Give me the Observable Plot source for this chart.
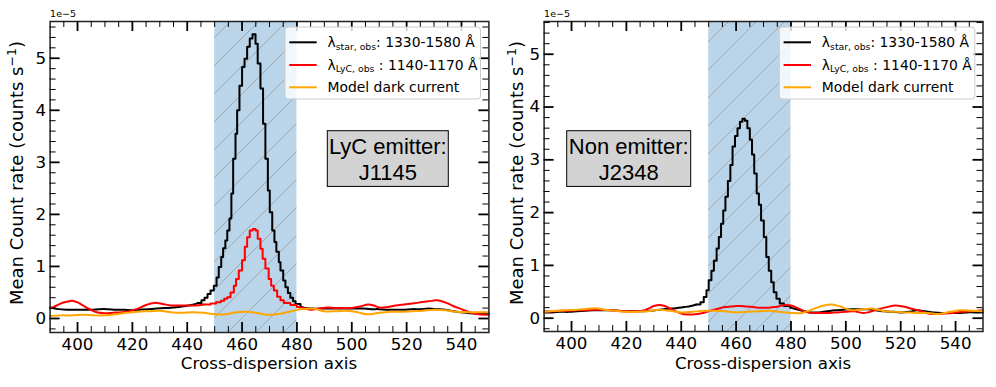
<!DOCTYPE html>
<html><head><meta charset="utf-8">
<script src="https://cdn.jsdelivr.net/npm/d3@7"></script>
<script src="https://cdn.jsdelivr.net/npm/@observablehq/plot@0.6"></script>
<style>
html,body{margin:0;padding:0;background:#fff;overflow:hidden;}
#wrap{position:relative;width:996px;height:387px;}
.panel{position:absolute;top:0;}
</style></head><body><div id="wrap"></div>
<script>
// ---------- axis / tick definitions ----------
const xDomain = [390, 550];
const xMajor = [400, 420, 440, 460, 480, 500, 520, 540];
const xMinor = [395, 405, 410, 415, 425, 430, 435, 445, 450, 455, 465, 470, 475, 485, 490, 495, 505, 510, 515, 525, 530, 535, 545];
const yMajor = [0, 1, 2, 3, 4, 5];
const yMinor = [-0.2, 0.2, 0.4, 0.6, 0.8, 1.2, 1.4, 1.6, 1.8, 2.2, 2.4, 2.6, 2.8, 3.2, 3.4, 3.6, 3.8, 4.2, 4.4, 4.6, 4.8, 5.2, 5.4, 5.6];
const spanX = [450, 480];
const legendLabels = ["star, obs", "LyC, obs", "Model dark current"];
const starRange = ": 1330-1580 Å";
const lycRange = " : 1140-1170 Å";

// ---------- left panel: J1145 (LyC emitter) ----------
const leftStarX = [390,393,396,399,402,405,408,411,414,417,420,423,426,429,432,435,438,440.5,442.5,444,445.2,446.3,447.4,448.5,449.7,450.7,451.5,452.4,453.1,453.9,454.6,455.4,456.1,456.75,457.6,458.2,459.05,460.0,460.9,461.85,462.8,463.8,464.9,465.7,466.7,467.65,468.5,469.4,470.1,471.0,471.8,472.5,473.4,474.0,475.0,475.8,476.7,477.6,478.6,479.5,481.3,483,486,489,492,495,498,501,504,507,510,513,516,519,522,525,528,531,534,537,540,543,546,549,550];
const leftStarY = [0.21,0.18,0.17,0.17,0.17,0.17,0.18,0.18,0.17,0.17,0.16,0.17,0.18,0.19,0.20,0.21,0.23,0.25,0.27,0.30,0.35,0.40,0.47,0.54,0.63,0.79,0.99,1.18,1.35,1.50,1.69,1.92,2.40,3.07,3.55,4.00,4.47,4.83,4.99,5.22,5.38,5.46,5.28,4.90,4.42,3.74,3.07,2.46,2.04,1.69,1.47,1.28,1.08,0.92,0.73,0.60,0.49,0.40,0.33,0.28,0.23,0.20,0.19,0.19,0.19,0.19,0.19,0.19,0.19,0.18,0.18,0.17,0.17,0.17,0.18,0.18,0.19,0.18,0.17,0.14,0.12,0.10,0.09,0.09,0.09];
const leftLycX = [390,392,394,396,398,400,402,404,406,408,410,413,416,419,422,425,428,431,434,437,440,443,446,448.5,450.5,452.3,453.5,454.6,455.8,457.0,457.8,458.8,460.0,461.0,461.85,462.8,463.9,464.9,465.7,466.7,467.5,468.5,469.7,470.6,471.6,472.8,474.0,475.2,477.6,480,482.5,485,488,491,494,497,500,503,506,508,510,513,516,519,522,525,528,531,534,537,540,543,546,549,550];
const leftLycY = [0.19,0.24,0.29,0.32,0.34,0.31,0.25,0.19,0.14,0.11,0.10,0.11,0.12,0.14,0.19,0.26,0.30,0.28,0.25,0.25,0.25,0.25,0.27,0.29,0.31,0.34,0.38,0.41,0.50,0.63,0.76,0.92,1.12,1.38,1.56,1.69,1.72,1.69,1.53,1.34,1.15,0.96,0.76,0.63,0.54,0.42,0.35,0.30,0.26,0.22,0.20,0.17,0.19,0.21,0.20,0.20,0.20,0.23,0.27,0.25,0.21,0.22,0.25,0.27,0.29,0.31,0.33,0.35,0.31,0.24,0.18,0.12,0.08,0.07,0.07];
const leftDarkX = [390,394,398,402,406,410,414,418,422,426,430,434,438,442,446,450,454,458,462,466,470,474,478,482,486,490,494,498,502,506,510,514,518,522,526,530,534,538,542,546,550];
const leftDarkY = [0.05,0.06,0.06,0.07,0.06,0.06,0.08,0.11,0.13,0.14,0.15,0.12,0.11,0.12,0.11,0.08,0.08,0.12,0.13,0.10,0.07,0.09,0.14,0.18,0.19,0.14,0.14,0.15,0.12,0.08,0.11,0.13,0.13,0.14,0.15,0.17,0.16,0.13,0.12,0.12,0.12];

// ---------- right panel: J2348 (non emitter) ----------
const rightStarX = [390,393,396,399,402,405,408,411,414,417,420,423,426,429,432,435,438,441,443.5,445.5,447,448.2,449.2,450,451,451.9,452.9,453.7,454.5,455.3,456.1,457.0,457.9,458.7,459.6,460.5,461.4,462.3,463.2,464.1,465.0,465.8,466.6,467.5,468.3,469.1,470.1,471.0,471.9,472.8,473.7,474.7,475.9,477.4,479.8,482,484,487,490,493,496,499,502,505,508,511,514,517,520,523,526,529,532,535,538,541,544,547,550];
const rightStarY = [0.11,0.11,0.12,0.12,0.13,0.14,0.15,0.15,0.15,0.14,0.13,0.13,0.13,0.14,0.16,0.18,0.19,0.21,0.23,0.26,0.30,0.40,0.53,0.72,0.90,1.09,1.32,1.54,1.79,2.04,2.30,2.60,2.90,3.25,3.45,3.60,3.72,3.78,3.74,3.60,3.38,3.10,2.74,2.36,2.15,1.85,1.54,1.16,0.90,0.68,0.49,0.37,0.28,0.23,0.20,0.17,0.14,0.11,0.11,0.13,0.15,0.16,0.17,0.17,0.17,0.15,0.13,0.12,0.11,0.12,0.15,0.13,0.11,0.10,0.10,0.10,0.11,0.11,0.11];
const rightLycX = [390,393,396,399,402,405,408,411,414,417,420,423,426,428,430,432,434,436,438,440,442,444,446,448,450,452,454,456,458,460,462,464,466,468,470,472,474,476,478,480,482,484,486,488,491,494,497,500,503,506,508,510,512,515,518,521,524,527,530,533,536,539,542,545,548,550];
const rightLycY = [0.13,0.13,0.14,0.14,0.15,0.15,0.16,0.16,0.15,0.14,0.13,0.13,0.14,0.18,0.23,0.25,0.23,0.18,0.13,0.09,0.07,0.07,0.08,0.10,0.13,0.16,0.19,0.21,0.22,0.23,0.23,0.22,0.21,0.20,0.20,0.20,0.21,0.23,0.25,0.24,0.20,0.15,0.11,0.10,0.10,0.10,0.11,0.12,0.13,0.10,0.11,0.14,0.17,0.21,0.24,0.22,0.18,0.14,0.09,0.08,0.09,0.10,0.12,0.13,0.14,0.15];
const rightDarkX = [390,394,398,402,406,409,412,416,420,424,428,432,436,440,444,448,452,456,460,464,468,472,476,480,484,488,492,495,498,502,506,510,514,518,522,526,530,534,538,542,546,550];
const rightDarkY = [0.12,0.14,0.15,0.16,0.18,0.19,0.16,0.14,0.12,0.12,0.13,0.16,0.14,0.11,0.12,0.14,0.14,0.13,0.11,0.12,0.13,0.14,0.12,0.10,0.10,0.17,0.24,0.26,0.22,0.15,0.17,0.18,0.13,0.12,0.11,0.10,0.10,0.08,0.12,0.15,0.14,0.13];

const FONT = "'DejaVu Sans'";
const rows = (xs, ys) => xs.map((x, i) => ({x, y: ys[i]}));

// A series drawn as smooth wings and a stepped (binned) core between a and b
function seriesMarks(xs, ys, stroke, core) {
  const data = rows(xs, ys);
  const opt = {x: "x", y: "y", stroke, strokeWidth: 2};
  if (!core) return [Plot.line(data, {...opt, curve: "catmull-rom"})];
  const [a, b] = core;
  return [
    Plot.line(data.filter(d => d.x <= a), {...opt, curve: "catmull-rom"}),
    Plot.line(data.filter(d => d.x >= a && d.x <= b), {...opt, curve: "step-after"}),
    Plot.line(data.filter(d => d.x >= b), {...opt, curve: "catmull-rom"})
  ];
}

function panel(c) {
  const W = 498, H = 387;
  const pw = W - c.ml - c.mr, ph = H - c.mt - c.mb;
  const svg = Plot.plot({
    width: W, height: H,
    marginLeft: c.ml, marginRight: c.mr, marginTop: c.mt, marginBottom: c.mb,
    style: {fontFamily: FONT, fontSize: "16.7px", background: "transparent", color: "#000", overflow: "visible"},
    x: {domain: xDomain, ticks: xMajor, tickSize: 0, tickPadding: 5.4, tickFormat: d => String(d), label: null},
    y: {domain: c.yDomain, ticks: yMajor, tickSize: 0, tickPadding: 4, tickFormat: d => String(d), label: null},
    marks: [
      Plot.rect([spanX], {x1: d => d[0], x2: d => d[1], fill: "#bad5e9"}),
      Plot.rect([spanX], {x1: d => d[0], x2: d => d[1], fill: "#010203"}),
      ...seriesMarks(c.starX, c.starY, "#000000", c.starCore),
      ...seriesMarks(c.lycX, c.lycY, "#ff0000", c.lycCore),
      ...seriesMarks(c.darkX, c.darkY, "#ffa500", null),
      Plot.frame({stroke: "#222", strokeWidth: 1.5}),
      Plot.tickX(xMajor, {x: d => d, insetTop: ph - 10, stroke: "#000", strokeWidth: 1.8}),
      Plot.tickX(xMajor, {x: d => d, insetBottom: ph - 10, stroke: "#000", strokeWidth: 1.8}),
      Plot.tickX(xMinor, {x: d => d, insetTop: ph - 6, stroke: "#000", strokeWidth: 1}),
      Plot.tickX(xMinor, {x: d => d, insetBottom: ph - 6, stroke: "#000", strokeWidth: 1}),
      Plot.tickY(yMajor, {y: d => d, insetRight: pw - 10, stroke: "#000", strokeWidth: 1.8}),
      Plot.tickY(yMajor, {y: d => d, insetLeft: pw - 10, stroke: "#000", strokeWidth: 1.8}),
      Plot.tickY(yMinor, {y: d => d, insetRight: pw - 6, stroke: "#000", strokeWidth: 1}),
      Plot.tickY(yMinor, {y: d => d, insetLeft: pw - 6, stroke: "#000", strokeWidth: 1})
    ]
  });
  const s = d3.select(svg);
  const pat = s.append("defs").append("pattern")
    .attr("id", c.id).attr("patternUnits", "userSpaceOnUse")
    .attr("width", 28).attr("height", 28);
  pat.append("path").attr("d", "M-7,7L7,-7M0,28L28,0M21,35L35,21")
    .attr("stroke", "#a2a9ae").attr("stroke-width", 1).attr("fill", "none");
  s.selectAll('[fill="#010203"]').attr("fill", `url(#${c.id})`);

  // offset text
  s.append("text").attr("x", c.ml + 0.5).attr("y", 17.3).attr("text-anchor", "start")
    .attr("font-family", FONT).attr("font-size", 9.5).attr("fill", "#000").text("1e\u22125");

  // axis titles
  s.append("text").attr("x", c.ml + pw / 2).attr("y", 369).attr("text-anchor", "middle")
    .attr("font-family", FONT).attr("font-size", 16.7).attr("fill", "#000").text("Cross-dispersion axis");
  const yl = s.append("text")
    .attr("transform", `translate(${c.ylabX},173) rotate(-90)`)
    .attr("text-anchor", "middle").attr("font-family", FONT).attr("font-size", 18).attr("fill", "#000");
  yl.append("tspan").text("Mean Count rate (counts s");
  yl.append("tspan").attr("font-size", 12.6).attr("dy", -7).text("\u22121");
  yl.append("tspan").attr("dy", 7).text(")");

  // legend
  const lg = s.append("g").attr("transform", `translate(${c.legX},27)`);
  lg.append("rect").attr("width", 195.5).attr("height", 72).attr("rx", 3)
    .attr("fill", "#fff").attr("fill-opacity", 0.8).attr("stroke", "#cccccc").attr("stroke-width", 1);
  const rowsY = [15.3, 38, 60.3];
  const cols = ["#000000", "#ff0000", "#ffa500"];
  rowsY.forEach((ry, i) => {
    lg.append("line").attr("x1", 4.3).attr("x2", 31.7).attr("y1", ry).attr("y2", ry)
      .attr("stroke", cols[i]).attr("stroke-width", 2);
    const t = lg.append("text").attr("x", 42.5).attr("y", ry + 4.6).attr("text-anchor", "start")
      .attr("font-family", FONT).attr("font-size", 13.9).attr("fill", "#000");
    if (i < 2) {
      t.append("tspan").text("\u03bb");
      t.append("tspan").attr("font-size", 9.3).attr("dy", 2.8).text(legendLabels[i]);
      t.append("tspan").attr("dy", -2.8).text(i === 0 ? starRange : lycRange);
    } else {
      t.text(legendLabels[i]);
    }
  });

  // annotation box
  const ab = s.append("g");
  ab.append("rect").attr("x", c.box[0]).attr("y", 130.7).attr("width", c.box[1]).attr("height", 55.7)
    .attr("fill", "#d3d3d3").attr("stroke", "#000").attr("stroke-width", 1);
  const cx = c.box[0] + c.box[1] / 2;
  c.boxText.forEach((line, i) => {
    ab.append("text").attr("x", cx).attr("y", 153.5 + i * 26.2).attr("text-anchor", "middle")
      .attr("font-family", "'Liberation Sans', Arial, sans-serif").attr("font-size", 22).attr("fill", "#000").text(line);
  });
  return svg;
}

const wrap = document.getElementById("wrap");
const leftDiv = document.createElement("div"); leftDiv.className = "panel"; leftDiv.style.left = "0px";
const rightDiv = document.createElement("div"); rightDiv.className = "panel"; rightDiv.style.left = "498px";
wrap.appendChild(leftDiv); wrap.appendChild(rightDiv);

leftDiv.appendChild(panel({
  id: "hatchL", ml: 49.6, mr: 9.6, mt: 21, mb: 55, yDomain: [-0.269, 5.706],
  starX: leftStarX, starY: leftStarY, starCore: [444, 481.3],
  lycX: leftLycX, lycY: leftLycY, lycCore: [446, 480],
  darkX: leftDarkX, darkY: leftDarkY,
  ylabX: 23.3, legX: 285, box: [327.3, 121], boxText: ["LyC emitter:", "J1145"]
}));
rightDiv.appendChild(panel({
  id: "hatchR", ml: 45.6, mr: 13.5, mt: 21, mb: 56, yDomain: [-0.252, 5.62],
  starX: rightStarX, starY: rightStarY, starCore: [445.5, 479.8],
  lycX: rightLycX, lycY: rightLycY, lycCore: null,
  darkX: rightDarkX, darkY: rightDarkY,
  ylabX: 25.3, legX: 281.3, box: [68.7, 124], boxText: ["Non emitter:", "J2348"]
}));
</script>
</body></html>
